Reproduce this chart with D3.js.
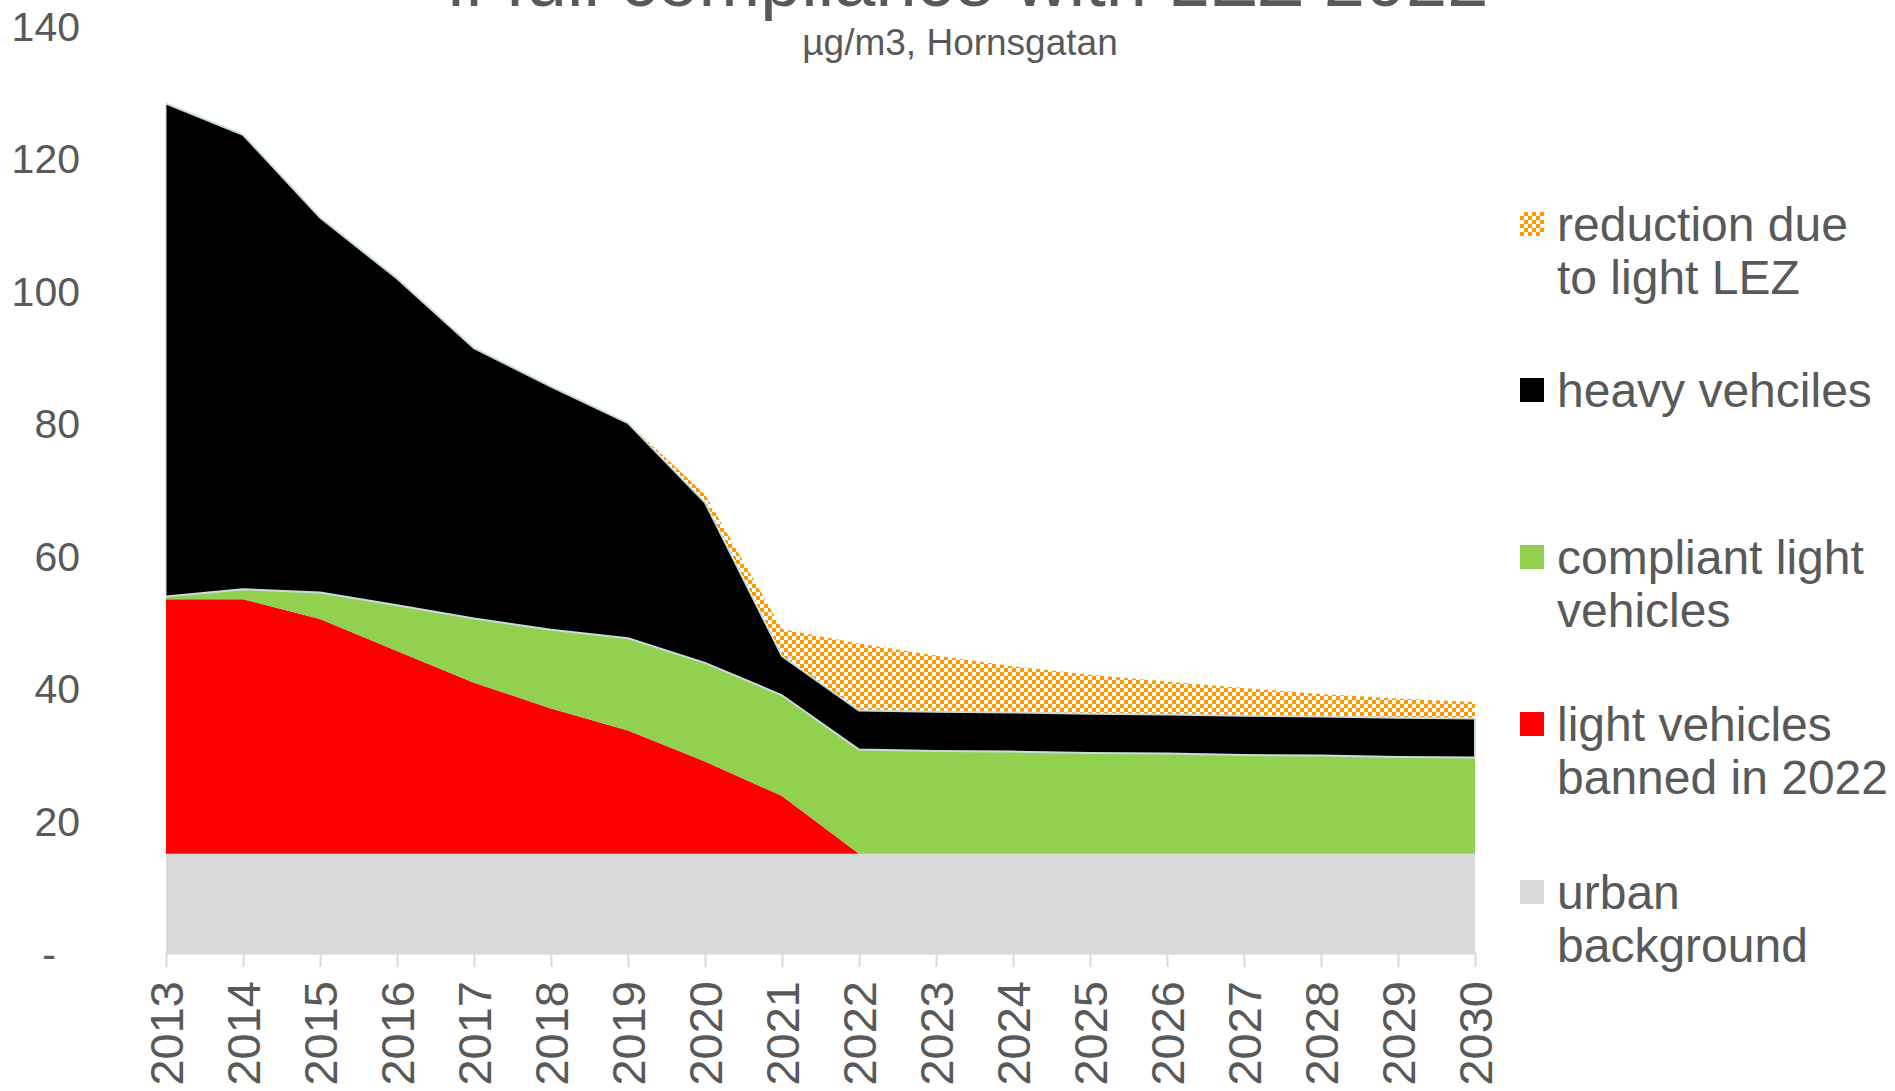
<!DOCTYPE html>
<html>
<head>
<meta charset="utf-8">
<script src="https://cdn.jsdelivr.net/npm/d3@7"></script>
<style>
  html, body { margin: 0; padding: 0; background: #fff; }
  svg { display: block; font-family: "Liberation Sans", Arial, sans-serif; }
</style>
</head>
<body>
<svg id="chart" width="1895" height="1091"></svg>
<script>
// ---- Data (µg/m3, Hornsgatan) ----
const years = [2013, 2014, 2015, 2016, 2017, 2018, 2019, 2020, 2021, 2022, 2023, 2024, 2025, 2026, 2027, 2028, 2029, 2030];
const urbanBackground = [15, 15, 15, 15, 15, 15, 15, 15, 15, 15, 15, 15, 15, 15, 15, 15, 15, 15];
const lightBanned2022 = [38.4, 38.4, 35.4, 30.6, 25.8, 21.9, 18.6, 13.9, 8.7, 0, 0, 0, 0, 0, 0, 0, 0, 0];
const compliantLight = [0.4, 1.5, 4.0, 6.9, 9.7, 11.9, 13.9, 14.9, 15.2, 15.7, 15.5, 15.4, 15.2, 15.1, 14.9, 14.8, 14.6, 14.5];
const heavyVehicles = [74.4, 68.6, 56.6, 49.3, 40.8, 36.7, 32.5, 24.2, 5.9, 5.9, 5.9, 5.9, 5.9, 5.9, 5.9, 5.9, 5.9, 5.9];
const reductionLightLEZ = [0, 0, 0, 0, 0, 0, 0, 1.2, 4.1, 10.1, 8.5, 7.0, 5.9, 5.0, 4.2, 3.4, 2.9, 2.5];
const yTicks = [0, 20, 40, 60, 80, 100, 120, 140];

const titleText = "if full compliance with LEZ 2022";
const subtitleText = "µg/m3, Hornsgatan";

const seriesKeys = ["urban", "banned", "compliant", "heavy", "reduction"];
const seriesLabels = {
  reduction: ["reduction due", "to light LEZ"],
  heavy: ["heavy vehciles"],
  compliant: ["compliant light", "vehicles"],
  banned: ["light vehicles", "banned in 2022"],
  urban: ["urban", "background"]
};

// ---- Build table ----
const table = years.map((y, i) => ({
  year: y,
  urban: urbanBackground[i],
  banned: lightBanned2022[i],
  compliant: compliantLight[i],
  heavy: heavyVehicles[i],
  reduction: reductionLightLEZ[i]
}));

const svg = d3.select("#chart");
const textColor = "#595959";

// pattern for the checkered orange area
const defs = svg.append("defs");
const pat = defs.append("pattern")
  .attr("id", "checker").attr("patternUnits", "userSpaceOnUse")
  .attr("width", 8).attr("height", 8);
pat.append("rect").attr("width", 8).attr("height", 8).attr("fill", "#ffffff");
pat.append("rect").attr("x", 0).attr("y", 0).attr("width", 4).attr("height", 4).attr("fill", "#FF9900");
pat.append("rect").attr("x", 4).attr("y", 4).attr("width", 4).attr("height", 4).attr("fill", "#FF9900");

const colors = {
  urban: "#D9D9D9",
  banned: "#FF0000",
  compliant: "#92D050",
  heavy: "#000000",
  reduction: "url(#checker)"
};

const x = d3.scalePoint().domain(years).range([166, 1475]);
const y = d3.scaleLinear().domain([0, 140]).range([953, 25.5]);

const stack = d3.stack().keys(seriesKeys);
const stacked = stack(table);

const area = d3.area()
  .x(d => x(d.data.year))
  .y0(d => y(d[0]))
  .y1(d => y(d[1]));

svg.append("g").selectAll("path")
  .data(stacked)
  .join("path")
  .attr("d", area)
  .attr("fill", d => colors[d.key]);

// light outlines on top of compliant and heavy areas
const topLine = d3.line().x(d => x(d.data.year)).y(d => y(d[1]));
stacked.filter(s => s.key === "compliant" || s.key === "heavy").forEach(s => {
  svg.append("path").attr("d", topLine(s))
    .attr("fill", "none").attr("stroke", "#c9dcdd").attr("stroke-width", 2);
});
const heavy = stacked.find(s => s.key === "heavy");
const last = heavy[heavy.length - 1], first = heavy[0];
svg.append("line").attr("x1", x(2030)).attr("x2", x(2030))
  .attr("y1", y(last[0])).attr("y2", y(last[1]))
  .attr("stroke", "#c9dcdd").attr("stroke-width", 2);
svg.append("line").attr("x1", x(2013)).attr("x2", x(2013))
  .attr("y1", y(first[0])).attr("y2", y(first[1]))
  .attr("stroke", "#c9dcdd").attr("stroke-width", 1);

// ---- X axis ----
const xAxis = d3.axisBottom(x).tickSize(14).tickSizeOuter(0).tickPadding(0);
const gx = svg.append("g").attr("transform", "translate(0,953)").call(xAxis);
gx.select(".domain").attr("stroke", "#D9D9D9").attr("stroke-width", 2);
gx.selectAll(".tick line").attr("stroke", "#D9D9D9").attr("stroke-width", 2);
gx.selectAll(".tick text")
  .attr("fill", textColor)
  .attr("font-size", 47)
  .attr("text-anchor", "end")
  .attr("transform", "translate(0,28) rotate(-90)")
  .attr("x", 0).attr("y", 0)
  .attr("dy", "0.36em");

// ---- Y axis ----
const yAxis = d3.axisLeft(y).tickValues(yTicks).tickSize(0).tickPadding(0)
  .tickFormat(d => d === 0 ? "-" : d);
const gy = svg.append("g").attr("transform", "translate(80,0)").call(yAxis);
gy.select(".domain").remove();
gy.selectAll(".tick text")
  .attr("fill", textColor)
  .attr("font-size", 41)
  .attr("dy", "0.36em")
  .attr("x", d => d === 0 ? -24 : 0);

// ---- Titles ----
svg.append("text").attr("x", 968).attr("y", 6)
  .attr("text-anchor", "middle").attr("font-size", 74).attr("fill", textColor)
  .text(titleText);
svg.append("text").attr("x", 960).attr("y", 55)
  .attr("text-anchor", "middle").attr("font-size", 37).attr("fill", textColor)
  .text(subtitleText);

// ---- Legend ----
const legendOrder = ["reduction", "heavy", "compliant", "banned", "urban"];
const legendY = [224, 390, 557, 724, 892];
const lg = svg.append("g");
legendOrder.forEach((k, i) => {
  const g = lg.append("g").attr("transform", `translate(1520,${legendY[i]})`);
  g.append("rect").attr("x", 0).attr("y", -12).attr("width", 24).attr("height", 24)
    .attr("fill", colors[k]);
  const t = g.append("text").attr("x", 37).attr("y", 0)
    .attr("font-size", 48).attr("fill", textColor);
  seriesLabels[k].forEach((line, j) => {
    t.append("tspan").attr("x", 37).attr("dy", j === 0 ? "0.36em" : 53).text(line);
  });
});
</script>
</body>
</html>
